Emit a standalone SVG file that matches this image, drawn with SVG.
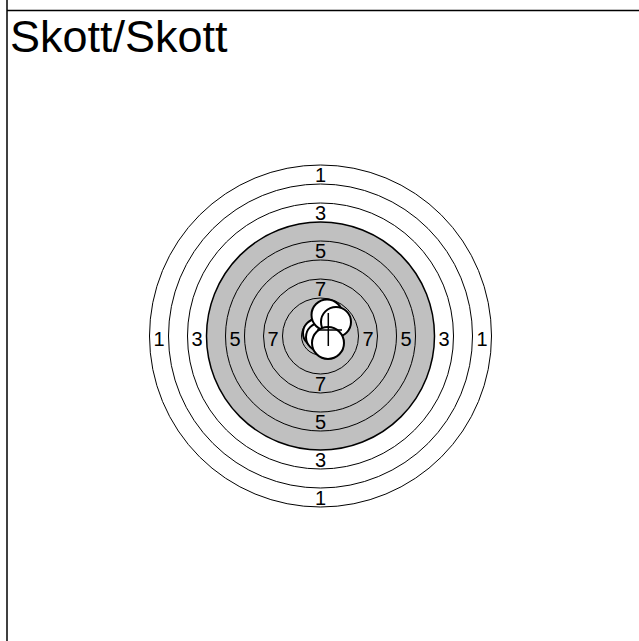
<svg xmlns="http://www.w3.org/2000/svg" width="639" height="641" viewBox="0 0 639 641">
<style>
.ring{fill:none;stroke:#000;stroke-width:1}
.lbl{font-family:"Liberation Sans",Arial,sans-serif;font-size:20px;fill:#000;text-anchor:middle}
.hole{fill:#fff;stroke:#000;stroke-width:2}
</style>
<rect x="0" y="0" width="639" height="641" fill="#fff"/>
<g id="frame">
<line x1="7" y1="0" x2="7" y2="641" stroke="#000" stroke-width="1.5"/>
<line x1="7" y1="10.5" x2="639" y2="10.5" stroke="#000" stroke-width="1.5"/>
<text x="10" y="52" font-family="'Liberation Sans',Arial,sans-serif" font-size="45" fill="#000">Skott/Skott</text>
</g>
<g id="target">
<circle class="ring" cx="320.5" cy="336" r="171"/>
<circle class="ring" cx="320.5" cy="336" r="152"/>
<circle class="ring" cx="320.5" cy="336" r="133"/>
<circle cx="320.5" cy="336" r="114" fill="#c0c0c0" stroke="#000" stroke-width="1.5"/>
<circle class="ring" cx="320.5" cy="336" r="95"/>
<circle class="ring" cx="320.5" cy="336" r="76"/>
<circle class="ring" cx="320.5" cy="336" r="57"/>
<circle class="ring" cx="320.5" cy="336" r="38"/>
<circle class="ring" cx="320.5" cy="336" r="19"/>
<circle class="ring" cx="320.5" cy="336" r="9.5"/>
</g>
<g id="labels">
<text class="lbl" x="320.5" y="182">1</text>
<text class="lbl" x="320.5" y="220">3</text>
<text class="lbl" x="320.5" y="258">5</text>
<text class="lbl" x="320.5" y="296">7</text>
<text class="lbl" x="320.5" y="391">7</text>
<text class="lbl" x="320.5" y="429">5</text>
<text class="lbl" x="320.5" y="467">3</text>
<text class="lbl" x="320.5" y="505">1</text>
<text class="lbl" x="159" y="345.5">1</text>
<text class="lbl" x="197" y="345.5">3</text>
<text class="lbl" x="235" y="345.5">5</text>
<text class="lbl" x="273" y="345.5">7</text>
<text class="lbl" x="368" y="345.5">7</text>
<text class="lbl" x="406" y="345.5">5</text>
<text class="lbl" x="444" y="345.5">3</text>
<text class="lbl" x="482" y="345.5">1</text>
</g>
<g id="shots">
<circle class="hole" cx="317" cy="333" r="14"/>
<circle class="hole" cx="320" cy="337" r="14"/>
<circle class="hole" cx="327" cy="315" r="15.5"/>
<circle class="hole" cx="336" cy="322" r="15"/>
<circle class="hole" cx="328" cy="343" r="16"/>
</g>
<g id="mark">
<line x1="328.3" y1="313" x2="328.3" y2="346" stroke="#000" stroke-width="1.5"/>
<line x1="317" y1="330" x2="342" y2="330" stroke="#000" stroke-width="1.5"/>
</g>
</svg>
